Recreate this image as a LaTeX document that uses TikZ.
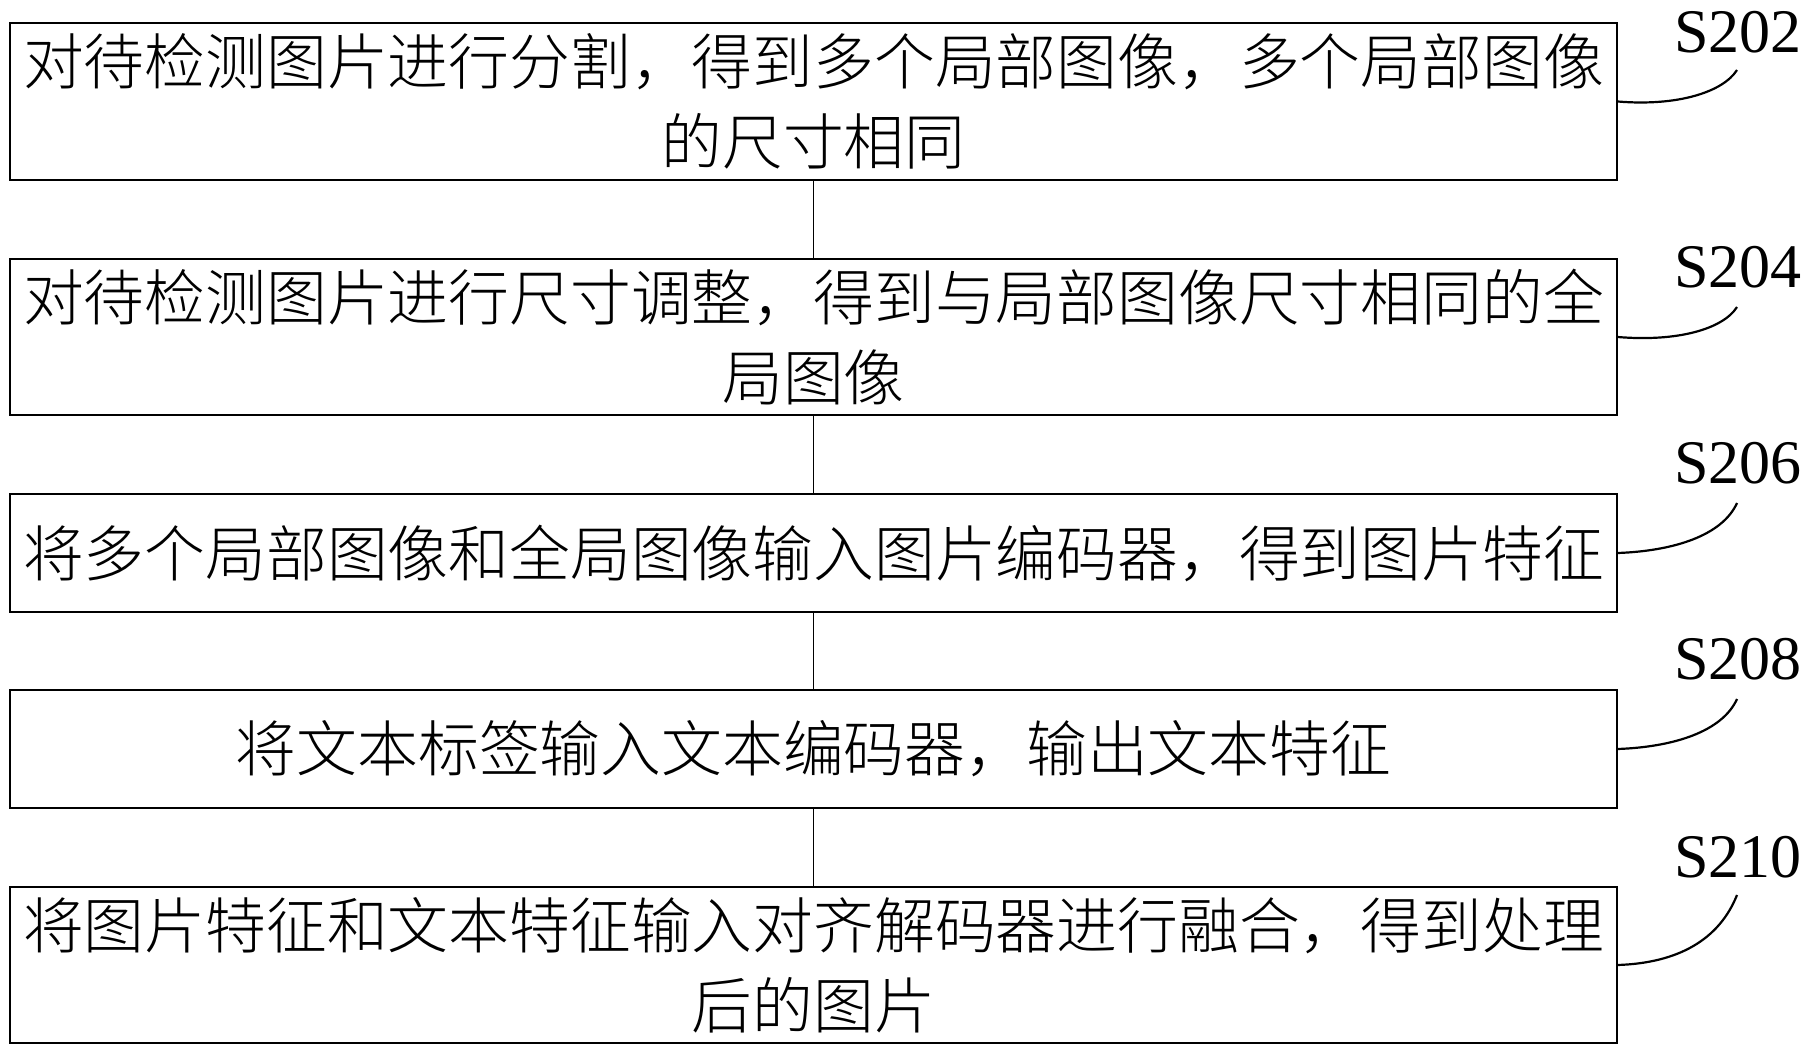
\documentclass[tikz,border=0pt]{standalone}
\usepackage{fontspec}
\setmainfont{Liberation Serif}
\newfontfamily\cjk{Noto Sans CJK SC Light}
\begin{document}
\begin{tikzpicture}[x=1pt,y=-1pt,
  stepbox/.style={draw, line width=1.5pt, minimum width=1607pt, inner sep=0pt, align=center, font=\cjk\fontsize{60.8}{80}\selectfont},
  lbl/.style={font=\fontsize{62}{62}\selectfont, anchor=base, inner sep=0pt},
  lead/.style={line width=2.2pt},
  link/.style={line width=1.5pt}]
\useasboundingbox (0,0) rectangle (1810,1054);
\node[stepbox, minimum height=157pt] (b1) at (813.5,101.5) {对待检测图片进行分割，得到多个局部图像，多个局部图像\\的尺寸相同};
\node[stepbox, minimum height=156pt] (b2) at (813.5,337) {对待检测图片进行尺寸调整，得到与局部图像尺寸相同的全\\局图像};
\node[stepbox, minimum height=118pt] (b3) at (813.5,553) {将多个局部图像和全局图像输入图片编码器，得到图片特征};
\node[stepbox, minimum height=118pt] (b4) at (813.5,749) {将文本标签输入文本编码器，输出文本特征};
\node[stepbox, minimum height=156pt] (b5) at (813.5,965) {将图片特征和文本特征输入对齐解码器进行融合，得到处理\\后的图片};
\draw[link] (b1.south) -- (b2.north);
\draw[link] (b2.south) -- (b3.north);
\draw[link] (b3.south) -- (b4.north);
\draw[link] (b4.south) -- (b5.north);
\node[lbl] (s1) at (1738,53) {S202};
\node[lbl] (s2) at (1738,287) {S204};
\node[lbl] (s3) at (1738,483) {S206};
\node[lbl] (s4) at (1738,679) {S208};
\node[lbl] (s5) at (1738,877) {S210};
\coordinate (e1) at (1737,70);
\coordinate (e2) at (1737,307);
\coordinate (e3) at (1737,503);
\coordinate (e4) at (1737,699);
\coordinate (e5) at (1737,895);
\draw[lead] (b1.east) .. controls +(60,5) and +(-14,22) .. (e1);
\draw[lead] (b2.east) .. controls +(60,5) and +(-14,22) .. (e2);
\draw[lead] (b3.east) .. controls +(55,-2) and +(-15,33) .. (e3);
\draw[lead] (b4.east) .. controls +(55,-2) and +(-15,33) .. (e4);
\draw[lead] (b5.east) .. controls +(60,-2) and +(-18,45) .. (e5);
\end{tikzpicture}
\end{document}
